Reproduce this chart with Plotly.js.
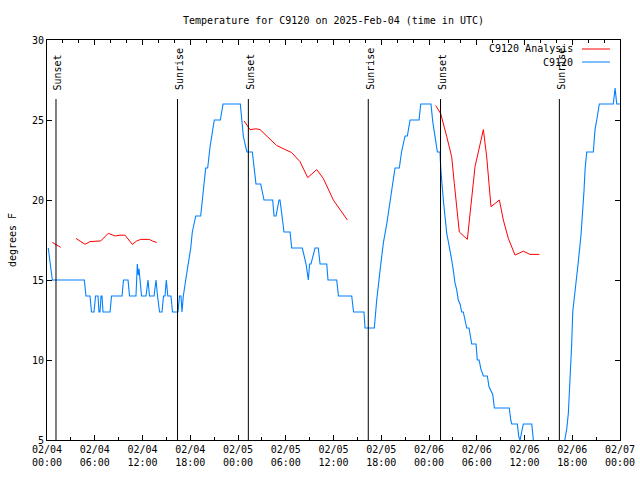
<!DOCTYPE html>
<html>
<head>
<meta charset="utf-8">
<script src="https://cdn.plot.ly/plotly-3.0.1.min.js"></script>
<style>html,body{margin:0;padding:0;background:#fff;}#chart{width:640px;height:480px;}</style>
</head>
<body>
<div id="chart"></div>
<script>
// Start of the time axis (UTC); hours below are offsets from it
const startDate = '2025-02-04 00:00';
const endDate = '2025-02-07 00:00';

// C9120 observed temperature (hours since start, deg F)
const obsHours = [0.16,0.38,0.67,4.69,4.90,5.40,5.59,5.91,6.10,6.41,6.53,6.66,6.79,6.91,7.04,7.92,8.11,9.43,9.61,10.18,10.37,11.18,11.35,11.47,11.56,11.88,12.44,12.69,12.88,13.45,13.70,13.89,14.14,14.45,14.64,14.83,14.99,15.18,15.58,15.77,16.46,16.65,16.84,16.96,17.13,17.43,17.76,18.06,18.26,18.69,19.31,19.48,19.73,19.94,20.19,20.48,20.77,21.02,21.78,21.95,22.12,24.29,24.47,24.67,24.88,25.13,25.80,26.01,26.26,26.85,27.02,27.27,28.36,28.53,28.78,28.97,29.15,29.28,29.40,29.57,29.78,30.54,30.75,32.08,32.30,32.55,32.84,32.99,33.17,33.43,33.68,34.09,34.31,35.15,35.31,36.40,36.63,38.29,38.52,39.83,39.96,41.13,41.43,41.85,42.26,42.69,43.10,43.52,43.73,44.27,44.55,44.99,45.28,45.62,46.75,46.96,48.25,48.47,48.76,49.05,49.38,49.47,49.80,50.01,50.23,50.43,50.64,50.85,51.06,51.27,51.48,51.68,51.90,52.11,52.31,52.53,52.74,53.03,53.24,53.37,53.91,54.07,54.29,54.54,54.83,55.33,55.54,55.79,56.01,56.21,58.09,58.27,58.40,59.10,59.28,59.44,59.63,59.85,60.91,61.11,61.32,64.72,65.09,65.31,65.51,65.63,65.81,65.93,66.06,66.35,66.73,67.10,67.35,67.48,67.61,67.82,68.65,68.86,69.08,69.28,69.40,71.16,71.38,71.59,72.0];
const obsTemps = [17,16,15,15,14,14,13,13,14,14,13,13,14,14,13,13,14,14,15,15,14,14,16,15.3,15.7,14,14,15,14,14,15,14,13,13,14,14,15,14,14,13,13,14,14,13,14,15,16,17,18,19,19,20,21,22,22,23.3,24.4,25,25,25.6,26,26,25,24,23.5,23,23,22,21,21,20.5,20,20,19,19,19.5,20,20,19.5,19,18,18,17,17,16.5,16,15,16,16,16.5,17,17,16,16,15,15,14,14,13,13,12,12,13.75,15.6,17.3,18.5,19.8,21.25,22,22,23,24,24,25,25,26,26,24.9,24,23,23,22,20,19,17.9,17.4,16.9,16.25,15.6,14.8,14.4,13.75,13.5,13,13,12.5,12,12,11.35,11,11,10,10,9.4,9,9,8.33,8.1,7.85,7,7,6.25,6,6,5.2,5,5.5,6,6,5,4,4,5,5.7,6.67,7.7,9.27,11,13,14.5,16,17.8,19.4,20.6,21.9,23,23,24.4,25,25.8,26,26,27,26,26];

// C9120 Analysis (hours since start, deg F); null = gap
const anaHours = [0.67,1.72,null,3.64,4.15,4.78,5.40,6.75,7.70,8.55,9.17,9.80,10.72,11.27,11.78,12.86,13.23,13.79,null,24.76,25.51,26.26,26.77,28.87,30.75,31.79,32.76,33.89,34.72,35.98,37.74,null,48.85,49.47,50.23,50.85,51.18,51.81,52.82,53.37,53.78,54.83,55.25,55.79,56.84,57.34,57.97,58.81,59.85,60.69,61.87];
const anaTemps = [17.35,17.04,null,17.6,17.44,17.23,17.4,17.44,17.92,17.75,17.8,17.8,17.23,17.44,17.54,17.54,17.44,17.35,null,24.94,24.4,24.45,24.4,23.4,22.96,22.4,21.4,21.9,21.35,20.0,18.75,null,25.9,25.4,23.96,22.7,21.04,18.0,17.54,20.0,22.08,24.4,22.7,19.58,20.0,18.75,17.6,16.56,16.8,16.6,16.6];

// Sun events (hours since start)
const sunHours = [1.13,16.40,25.30,40.37,49.45,64.38];
const sunLabels = ['Sunset','Sunrise','Sunset','Sunrise','Sunset','Sunrise'];
const sunLineTop = 26.31;

const seriesNames = ['C9120 Analysis','C9120'];
const seriesColors = ['#ff0000','#0080ff'];

const baseMs = Date.UTC(2025,1,4,0,0,0);
function toDate(h){
  if(h===null) return null;
  return new Date(baseMs + h*3600000).toISOString().slice(0,19).replace('T',' ');
}

const FONT = 'DejaVu Sans Mono, Liberation Mono, monospace';

const traces = [
  {x: anaHours.map(toDate), y: anaTemps, type:'scatter', mode:'lines', name: seriesNames[0],
   line:{color: seriesColors[0], width:1}, connectgaps:false, showlegend:false},
  {x: obsHours.map(toDate), y: obsTemps, type:'scatter', mode:'lines', name: seriesNames[1],
   line:{color: seriesColors[1], width:1.1}, showlegend:false},
  {x: [startDate, endDate], y: [null, null], xaxis:'x2', type:'scatter', mode:'lines', showlegend:false, hoverinfo:'skip'}
];

const shapes = sunHours.map(h => ({
  type:'line', xref:'x', yref:'y', x0: toDate(h), x1: toDate(h), y0: 5, y1: sunLineTop,
  line:{color:'#000', width:1}
}));

const annotations = sunHours.map((h,i) => ({
  x: toDate(h), y: 26.75, xref:'x', yref:'y', text: sunLabels[i], textangle:-90,
  showarrow:false, xanchor:'center', yanchor:'bottom', xshift:1.5,
  font:{family:FONT, size:10, color:'#000'}
}));

// gnuplot-style legend: text then line sample, top right inside plot
const legY = [0.9775, 0.945];
seriesNames.forEach((n,i) => {
  annotations.push({x:0.9215, y:legY[i], xref:'paper', yref:'paper', text:n, showarrow:false,
    xanchor:'right', yanchor:'middle', font:{family:FONT, size:10, color:'#000'}});
  shapes.push({type:'line', xref:'paper', yref:'paper', x0:0.9337, x1:0.9825, y0:legY[i], y1:legY[i],
    line:{color:seriesColors[i], width:1}});
});

const layout = {
  width:640, height:480,
  margin:{l:47, r:20, t:40, b:40, pad:0},
  paper_bgcolor:'#fff', plot_bgcolor:'#fff',
  font:{family:FONT, size:10, color:'#000'},
  title:{text:'Temperature for C9120 on 2025-Feb-04 (time in UTC)', x:0.5, xref:'paper',
    y:1-20.5/480, yref:'container', yanchor:'middle', font:{family:FONT, size:10, color:'#000'}},
  xaxis:{type:'date', range:[startDate, endDate], tick0:startDate, dtick:6*3600000,
    tickformat:'%m/%d<br>%H:%M', ticks:'inside', ticklen:5, tickcolor:'#000', tickwidth:1,
    showgrid:false, zeroline:false, showline:true, linecolor:'#000', linewidth:1, mirror:false,
    minor:{dtick:3*3600000, tick0:startDate, ticks:'inside', ticklen:3, tickcolor:'#000', showgrid:false},
    tickfont:{family:FONT, size:10, color:'#000'}, automargin:false, fixedrange:true},
  xaxis2:{type:'date', overlaying:'x', side:'top', anchor:'y', range:[startDate, endDate], tick0:startDate,
    dtick:6*3600000, showticklabels:false, ticks:'inside', ticklen:5, tickcolor:'#000',
    showgrid:false, zeroline:false, showline:true, linecolor:'#000', linewidth:1,
    minor:{dtick:2*3600000, tick0:startDate, ticks:'inside', ticklen:3, tickcolor:'#000', showgrid:false},
    automargin:false, fixedrange:true},
  yaxis:{range:[5,30], dtick:5, tick0:5, ticks:'inside', ticklen:5, tickcolor:'#000',
    showgrid:false, zeroline:false, showline:true, linecolor:'#000', linewidth:1, mirror:'ticks',
    tickfont:{family:FONT, size:10, color:'#000'}, automargin:false, fixedrange:true,
    title:{text:'degrees F', standoff:13, font:{family:FONT, size:10, color:'#000'}}},
  shapes: shapes,
  annotations: annotations,
  showlegend:false
};

Plotly.newPlot('chart', traces, layout, {staticPlot:true, displayModeBar:false});
</script>
</body>
</html>
